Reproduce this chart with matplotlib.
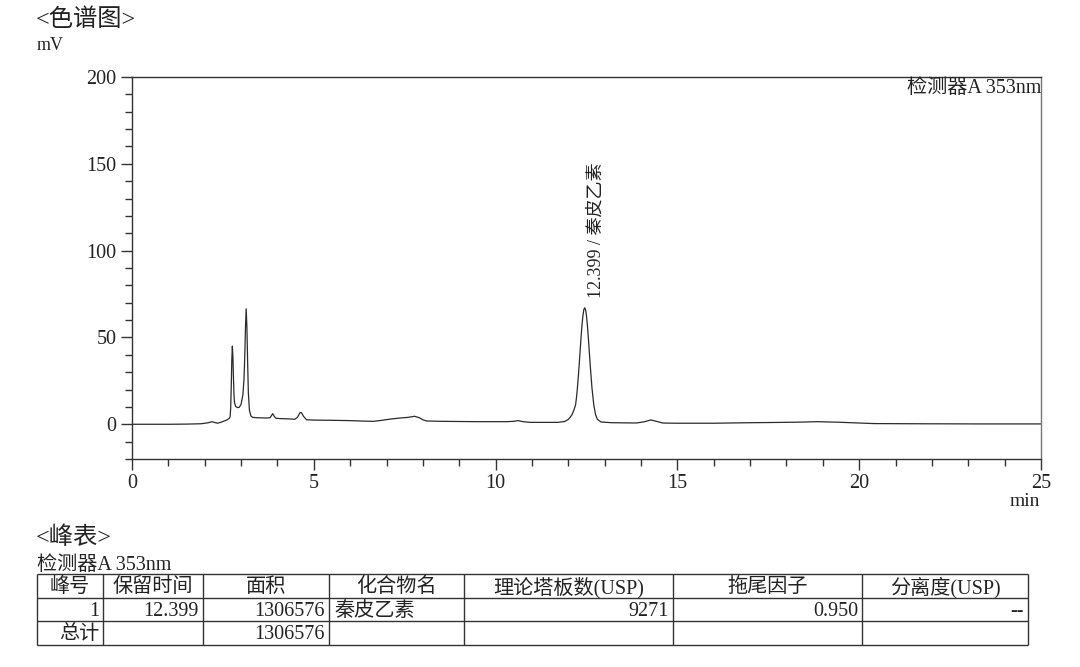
import matplotlib.pyplot as plt
from matplotlib.ticker import MultipleLocator

plt.rcParams['font.family'] = ['Liberation Serif', 'Noto Sans CJK SC']

# chromatogram trace (min, mV)
time_min = [0.0, 1.0, 1.5, 1.9, 2.1, 2.2, 2.28, 2.35, 2.45, 2.55, 2.62, 2.68,
            2.70, 2.715, 2.73, 2.745, 2.76, 2.775, 2.79, 2.805, 2.82, 2.85, 2.90,
            2.95, 3.00, 3.05, 3.08, 3.10, 3.12, 3.14, 3.16, 3.18, 3.20, 3.23,
            3.27, 3.32, 3.40, 3.55, 3.70, 3.80, 3.85, 3.87, 3.90, 3.95, 4.05,
            4.30, 4.48, 4.55, 4.62, 4.66, 4.72, 4.80, 5.00, 5.45, 6.0, 6.4,
            6.64, 6.85, 7.0, 7.2, 7.37, 7.6, 7.77, 7.9, 8.0, 8.1, 8.5, 9.0,
            9.5, 10.3, 10.5, 10.62, 10.75, 10.95, 11.4, 11.7, 11.9, 12.0,
            12.05, 12.1, 12.15, 12.2, 12.225, 12.25, 12.275, 12.3, 12.325,
            12.35, 12.375, 12.4, 12.425, 12.45, 12.475, 12.5, 12.525, 12.55,
            12.575, 12.6, 12.65, 12.7, 12.75, 12.8, 12.9, 13.2, 13.6, 13.88,
            14.1, 14.27, 14.4, 14.6, 15.0, 16.0, 17.0, 17.5, 18.3, 18.85,
            19.4, 20.4, 21.5, 23.3, 25.0]
signal_mv = [0.0, 0.0, 0.1, 0.3, 0.9, 1.5, 1.0, 0.6, 1.2, 2.0, 2.6, 3.5,
             4.5, 10.0, 22.0, 37.0, 45.0, 39.0, 27.0, 17.0, 12.5, 10.3, 9.6,
             9.8, 11.5, 17.0, 26.0, 38.0, 55.0, 66.5, 56.0, 36.0, 18.0, 8.0,
             4.8, 4.0, 3.8, 3.7, 3.6, 3.8, 5.5, 6.1, 5.0, 3.5, 3.3,
             3.1, 2.9, 4.0, 6.7, 6.7, 4.5, 2.6, 2.4, 2.3, 2.1, 1.8,
             1.7, 2.2, 2.7, 3.2, 3.6, 4.0, 4.6, 3.8, 2.6, 1.9, 1.7, 1.6,
             1.5, 1.5, 1.7, 2.1, 1.5, 1.1, 1.1, 1.1, 1.6, 2.8,
             4.0, 5.5, 8.0, 11.2, 15.5, 21.0, 27.4, 34.7, 42.4,
             50.0, 56.9, 62.3, 65.9, 67.1, 65.9, 62.3, 56.9, 50.0, 42.4,
             34.7, 21.0, 11.2, 5.5, 2.8, 1.3, 0.9, 0.8, 0.75,
             1.5, 2.5, 1.8, 0.7, 0.6, 0.6, 0.9, 1.0, 1.2, 1.5,
             1.2, 0.4, 0.3, 0.2, 0.2]

peak_time = 12.399
peak_height = 67.1
peak_label = '12.399 / 秦皮乙素'
detector = '检测器A 353nm'

table_header = ['峰号', '保留时间', '面积', '化合物名', '理论塔板数(USP)', '拖尾因子', '分离度(USP)']
table_row1 = ['1', '12.399', '1306576', '秦皮乙素', '9271', '0.950', '--']
table_total = ['总计', '', '1306576', '', '', '', '']
cell_align = ['right', 'right', 'right', 'left', 'right', 'right', 'right']

W, H = 1080, 667
fig = plt.figure(figsize=(W / 100, H / 100), dpi=100)

# overlay in pixel coordinates for headings and the peak table
lay = fig.add_axes([0, 0, 1, 1])
lay.set_xlim(0, W)
lay.set_ylim(H, 0)
lay.axis('off')

ax = fig.add_axes([132 / W, 1 - 459 / H, (1041 - 132) / W, (459 - 77) / H])
ax.patch.set_alpha(0)
ax.plot(time_min, signal_mv, color='#2a2a2a', lw=0.9)
ax.set_xlim(0, 25)
ax.set_ylim(-20, 200)
ax.xaxis.set_major_locator(MultipleLocator(5))
ax.xaxis.set_minor_locator(MultipleLocator(1))
ax.yaxis.set_major_locator(MultipleLocator(50))
ax.yaxis.set_minor_locator(MultipleLocator(10))
ax.tick_params(which='major', direction='out', length=8, width=1, color='#333',
               labelsize=14.5, labelcolor='#222', pad=3)
ax.tick_params(which='minor', direction='out', length=5, width=1, color='#333')
for s in ax.spines.values():
    s.set_color('#333')
    s.set_linewidth(1)
ax.spines['right'].set_color('#777')

ax.text(1.0, 0.995, detector, transform=ax.transAxes, ha='right', va='top',
        fontsize=14.5, color='#222')
ax.annotate(peak_label, xy=(peak_time, peak_height), xytext=(13, 10),
            textcoords='offset pixels', rotation=90, ha='center', va='bottom',
            fontsize=13, color='#222')

lay.text(36, 20, '<色谱图>', ha='left', va='center', fontsize=17.5, color='#222')
lay.text(37, 46, 'mV', ha='left', va='center', fontsize=13, color='#222')
lay.text(1040, 502, 'min', ha='right', va='center', fontsize=14, color='#222')
lay.text(36, 538, '<峰表>', ha='left', va='center', fontsize=17.5, color='#222')
lay.text(37, 565, detector, ha='left', va='center', fontsize=14.5, color='#222')

col_edges = [37, 103, 203, 329, 464, 673, 862, 1028]
row_edges = [574, 598, 621, 645]
lay.hlines(row_edges, col_edges[0], col_edges[-1], color='#333', lw=1)
lay.vlines(col_edges, row_edges[0], row_edges[-1], color='#333', lw=1)

for r, row in enumerate([table_header, table_row1, table_total]):
    yc = (row_edges[r] + row_edges[r + 1]) / 2 + 1.5
    for c, txt in enumerate(row):
        x0, x1 = col_edges[c], col_edges[c + 1]
        if r == 0:
            lay.text((x0 + x1) / 2, yc, txt, ha='center', va='center', fontsize=14.5, color='#222')
        elif cell_align[c] == 'left':
            lay.text(x0 + 5, yc, txt, ha='left', va='center', fontsize=14.5, color='#222')
        else:
            lay.text(x1 - 4, yc, txt, ha='right', va='center', fontsize=14.5, color='#222')

fig.savefig('out.png', dpi=100, facecolor='white')
